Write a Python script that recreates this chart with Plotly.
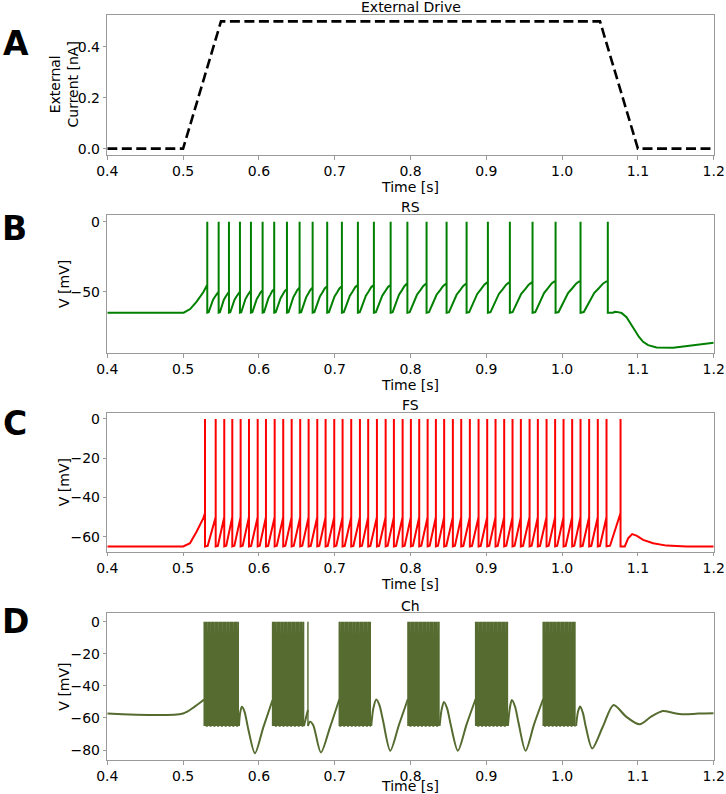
import numpy as np
import plotly.graph_objects as go

FONT = "DejaVu Sans"
W, H = 726, 794

# ---------------- Panel A : external drive ----------------
drive_t = [0.4, 0.5, 0.55, 1.05, 1.1, 1.2]
drive_nA = [0.0, 0.0, 0.5, 0.5, 0.0, 0.0]

# ---------------- Panel B : RS neuron ----------------
rs_spike_t = [0.5319, 0.5469, 0.5605, 0.5750, 0.5895, 0.6049, 0.6202, 0.6370,
              0.6537, 0.6709, 0.6901, 0.7095, 0.7306, 0.7517, 0.7738, 0.7959,
              0.8212, 0.8476, 0.8740, 0.9021, 0.9311, 0.9610, 0.9914, 1.0243,
              1.0603]
rs_prespike_v = [-45, -50, -50, -50, -49, -49, -48, -48, -47, -47, -46, -46,
                 -45, -45, -45, -44, -44, -44, -44, -43, -43, -43, -42, -42, -42]
rs_peak_v = 0.0
rs_reset_v = -65.0
rs_onset_t = [0.4, 0.5008, 0.5093, 0.5179, 0.5266]
rs_onset_v = [-65.0, -65.0, -62.4, -57.1, -50.4]
rs_isi_tfrac = [0.0, 0.12, 0.33, 0.5, 0.67, 0.83, 1.0]
rs_isi_vfrac = [0.0, 0.02, 0.37, 0.61, 0.76, 0.91, 1.0]
rs_offset_t = [1.0673, 1.0696, 1.0739, 1.0784, 1.0850, 1.0903, 1.0959, 1.1012,
               1.1069, 1.1135, 1.1246, 1.1465, 1.1728, 1.2]
rs_offset_v = [-65.0, -64.3, -64.6, -65.2, -68.2, -72.3, -77.5, -82.2,
               -85.8, -88.2, -89.8, -90.1, -88.4, -86.4]

# ---------------- Panel C : FS neuron ----------------
fs_spike_t = [0.5289, 0.5430, 0.5543, 0.5649, 0.5759, 0.5869, 0.5984, 0.6093,
              0.6208, 0.6321, 0.6432, 0.6545, 0.6656, 0.6770, 0.6880, 0.6994,
              0.7104, 0.7218, 0.7333, 0.7442, 0.7557, 0.7672, 0.7781, 0.7896,
              0.8005, 0.8115, 0.8226, 0.8335, 0.8444, 0.8559, 0.8669, 0.8783,
              0.8898, 0.9012, 0.9122, 0.9236, 0.9346, 0.9456, 0.9571, 0.9680,
              0.9795, 0.9908, 1.0019, 1.0133, 1.0243, 1.0357, 1.0471, 1.0586,
              1.0771]
fs_prespike_v = [-48] + [-50] * 47 + [-48]
fs_peak_v = 0.0
fs_reset_v = -65.0
fs_onset_t = [0.4, 0.5002, 0.5091, 0.5179, 0.5267]
fs_onset_v = [-65.0, -65.0, -63.4, -57.4, -50.6]
fs_isi_tfrac = [0.0, 0.25, 0.6, 1.0]
fs_isi_vfrac = [0.0, 0.02, 0.5, 1.0]
fs_offset_t = [1.0827, 1.0871, 1.0924, 1.0982, 1.1069, 1.1201, 1.1378, 1.1641, 1.2]
fs_offset_v = [-65.0, -60.9, -58.7, -59.5, -61.7, -63.4, -64.6, -65.0, -65.0]

# ---------------- Panel D : chattering neuron ----------------
ch_burst_start = [0.5278, 0.6180, 0.7060, 0.7966, 0.8859, 0.9750]
ch_burst_end = [0.5737, 0.6594, 0.7482, 0.8384, 0.9285, 1.0185]
ch_extra_spike_t = [0.6647]
ch_intraburst_isi = 0.001
ch_peak_v = 0.0
ch_reset_v = -65.0
ch_sub_t = [0.4, 0.5, 0.5157, 0.5278, None,
            0.5737, 0.5752, 0.5775, 0.5810, 0.5860, 0.5948, 0.6057, 0.6180, None,
            0.6594, 0.6620, 0.6647, None,
            0.6647, 0.6673, 0.6717, 0.6818, 0.6937, 0.7060, None,
            0.7482, 0.7510, 0.7548, 0.7590, 0.7636, 0.7733, 0.7847, 0.7966, None,
            0.8384, 0.8410, 0.8441, 0.8483, 0.8530, 0.8625, 0.8740, 0.8859, None,
            0.9285, 0.9310, 0.9337, 0.9380, 0.9425, 0.9518, 0.9630, 0.9750, None,
            1.0185, 1.0210, 1.0238, 1.0275, 1.0315, 1.0397, 1.0537, 1.0679, 1.0845,
            1.1022, 1.1174, 1.1329, 1.1460, 1.1593, 1.1800, 1.2]
ch_sub_v = [-57.2, -57.2, -52.8, -48.5, None,
            -65.0, -57.0, -53.0, -56.0, -67.0, -82.0, -66.0, -48.8, None,
            -65.0, -60.0, -55.0, None,
            -65.0, -62.3, -64.5, -81.5, -66.0, -48.5, None,
            -65.0, -54.0, -48.5, -52.0, -61.3, -80.4, -64.4, -48.2, None,
            -65.0, -55.0, -50.0, -54.0, -64.0, -80.4, -64.0, -48.2, None,
            -65.0, -54.0, -48.8, -53.0, -63.0, -80.4, -64.0, -48.2, None,
            -65.0, -56.0, -52.8, -57.0, -66.0, -79.0, -65.5, -51.9, -59.2,
            -64.0, -59.2, -55.7, -56.8, -57.7, -57.3, -57.1]

# ---------------- colours ----------------
RS_COLOR = "#008000"
FS_COLOR = "#ff0000"
CH_COLOR = "#556b2f"
SPINE = "#9a9a9a"


def spiking_trace(onset_t, onset_v, spikes, pre_v, peak, reset, tfrac, vfrac,
                  off_t, off_v):
    tt = list(onset_t) + [spikes[0]]
    vv = list(onset_v) + [pre_v[0]]
    for k, ts in enumerate(spikes):
        tt += [ts, ts]
        vv += [peak, reset]
        if k + 1 < len(spikes):
            isi = spikes[k + 1] - ts
            for f, g in zip(tfrac[1:], vfrac[1:]):
                tt.append(ts + f * isi)
                vv.append(reset + g * (pre_v[k + 1] - reset))
    tt += list(off_t)
    vv += list(off_v)
    return tt, vv


rs_t, rs_v = spiking_trace(rs_onset_t, rs_onset_v, rs_spike_t, rs_prespike_v,
                           rs_peak_v, rs_reset_v, rs_isi_tfrac, rs_isi_vfrac,
                           rs_offset_t, rs_offset_v)
fs_t, fs_v = spiking_trace(fs_onset_t, fs_onset_v, fs_spike_t, fs_prespike_v,
                           fs_peak_v, fs_reset_v, fs_isi_tfrac, fs_isi_vfrac,
                           fs_offset_t, fs_offset_v)

# chattering bursts: dense spikes between burst start and end
ch_bt, ch_bv = [], []
for s, e in zip(ch_burst_start, ch_burst_end):
    times = np.arange(s, e + 1e-9, ch_intraburst_isi)
    for t in times:
        ch_bt += [t, t]
        ch_bv += [ch_peak_v, ch_reset_v]
    ch_bt.append(None)
    ch_bv.append(None)
for t in ch_extra_spike_t:
    ch_bt += [t, t, None]
    ch_bv += [ch_peak_v, ch_reset_v, None]

fig = go.Figure()
fig.add_trace(go.Scatter(x=drive_t, y=drive_nA, mode="lines",
                         line=dict(color="black", width=2.6, dash="10px,4.5px"),
                         xaxis="x", yaxis="y", showlegend=False))
fig.add_trace(go.Scatter(x=rs_t, y=rs_v, mode="lines",
                         line=dict(color=RS_COLOR, width=2),
                         xaxis="x2", yaxis="y2", showlegend=False))
fig.add_trace(go.Scatter(x=fs_t, y=fs_v, mode="lines",
                         line=dict(color=FS_COLOR, width=2),
                         xaxis="x3", yaxis="y3", showlegend=False))
fig.add_trace(go.Scatter(x=ch_bt, y=ch_bv, mode="lines",
                         line=dict(color=CH_COLOR, width=1.4),
                         xaxis="x4", yaxis="y4", showlegend=False))
fig.add_trace(go.Scatter(x=ch_sub_t, y=ch_sub_v, mode="lines",
                         line=dict(color=CH_COLOR, width=2, shape="spline", smoothing=0.8),
                         connectgaps=False,
                         xaxis="x4", yaxis="y4", showlegend=False))

# pixel geometry of the four panels (top, bottom)
x_left, x_right = 107.3, 713.7
panels = [(15.0, 155.0), (215.0, 353.0), (412.7, 551.7), (613.3, 760.0)]
yranges = [[-0.025, 0.525], [-93.8, 4.8], [-67.7, 3.2], [-86.2, 5.2]]
ytickvals = [[0.0, 0.2, 0.4], [0, -50], [0, -20, -40, -60], [0, -20, -40, -60, -80]]
yticktext = [["0.0", "0.2", "0.4"], ["0", "−50"], ["0", "−20", "−40", "−60"],
             ["0", "−20", "−40", "−60", "−80"]]
ytitles = ["External<br>Current [nA]", "V [mV]", "V [mV]", "V [mV]"]
ytitle_x = [63.5, 64.0, 64.0, 64.0]
titles = ["External Drive", "RS", "FS", "Ch"]
letters = ["A", "B", "C", "D"]
letter_pos = [(16, 44), (14, 228), (15, 423), (15, 621)]
xtickvals = [0.4, 0.5, 0.6, 0.7, 0.8, 0.9, 1.0, 1.1, 1.2]
xticktext = ["0.4", "0.5", "0.6", "0.7", "0.8", "0.9", "1.0", "1.1", "1.2"]

tickfont = dict(family=FONT, size=14, color="black")
layout = dict(width=W, height=H, margin=dict(l=0, r=0, t=0, b=0),
              paper_bgcolor="white", plot_bgcolor="white", showlegend=False,
              font=dict(family=FONT, size=14, color="black"))
annotations = []
for i, (top, bot) in enumerate(panels):
    n = "" if i == 0 else str(i + 1)
    layout["xaxis" + n] = dict(
        domain=[x_left / W, x_right / W], range=[0.4, 1.2], anchor="y" + n,
        tickvals=xtickvals, ticktext=xticktext, tickfont=tickfont,
        showline=True, linecolor=SPINE, linewidth=1, mirror=True,
        ticks="outside", ticklen=3.5, tickcolor=SPINE, showgrid=False,
        zeroline=False, title=dict(text="Time [s]", font=tickfont, standoff=0),
        automargin=False)
    layout["yaxis" + n] = dict(
        domain=[1 - bot / H, 1 - top / H], range=yranges[i], anchor="x" + n,
        tickvals=ytickvals[i], ticktext=yticktext[i], tickfont=tickfont,
        showline=True, linecolor=SPINE, linewidth=1, mirror=True,
        ticks="outside", ticklen=3.5, tickcolor=SPINE, showgrid=False,
        zeroline=False, automargin=False)
    # y-axis label (rotated text placed as in the reference)
    annotations.append(dict(
        text=ytitles[i], xref="paper", yref="paper",
        x=ytitle_x[i] / W, y=1 - (top + bot) / 2 / H, textangle=-90,
        xanchor="center", yanchor="middle", showarrow=False,
        font=dict(family=FONT, size=14, color="black")))
    annotations.append(dict(
        text=titles[i], xref="paper", yref="paper",
        x=(x_left + x_right) / 2 / W, y=1 - (top - 7.7) / H,
        xanchor="center", yanchor="middle", showarrow=False,
        font=dict(family=FONT, size=14, color="black")))
    lx, ly = letter_pos[i]
    annotations.append(dict(
        text="<b>" + letters[i] + "</b>", xref="paper", yref="paper",
        x=lx / W, y=1 - ly / H, xanchor="center", yanchor="middle",
        showarrow=False, font=dict(family=FONT, size=33, color="black")))
layout["annotations"] = annotations
fig.update_layout(**layout)
fig.write_html("out.html",
               config={"displayModeBar": False},
               post_script="document.body.style.margin='0';"
                           "document.body.style.overflow='hidden';")
